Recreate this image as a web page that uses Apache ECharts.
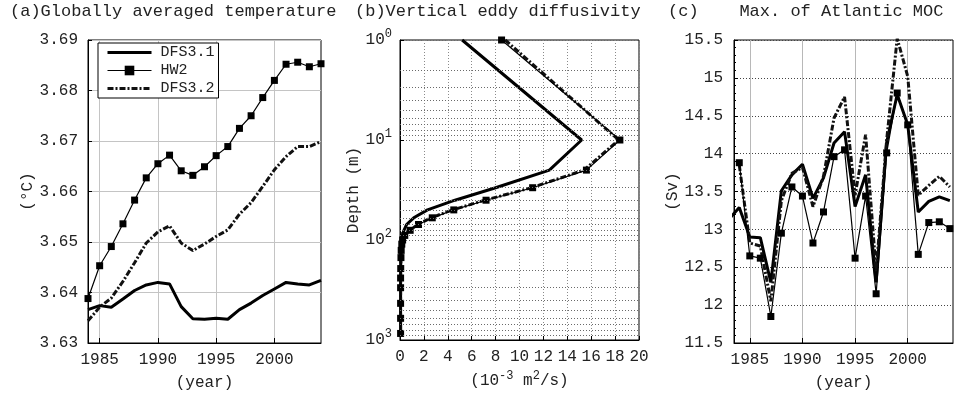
<!DOCTYPE html>
<html>
<head>
<meta charset="utf-8">
<script src="https://cdn.jsdelivr.net/npm/echarts@6/dist/echarts.min.js"></script>
<style>
  html, body { margin: 0; padding: 0; background: #fff; }
  #chart { width: 954px; height: 397px; }
</style>
</head>
<body>
<div id="chart"></div>
<script>
// (a) globally averaged temperature
var years = [1984, 1985, 1986, 1987, 1988, 1989, 1990, 1991, 1992, 1993, 1994,
             1995, 1996, 1997, 1998, 1999, 2000, 2001, 2002, 2003, 2004];
var tempDFS31 = [3.6366, 3.6374, 3.6371, 3.6387, 3.6404, 3.6415, 3.6420, 3.6417, 3.6372, 3.6348, 3.6347,
                 3.6349, 3.6347, 3.6366, 3.6379, 3.6394, 3.6407, 3.6420, 3.6417, 3.6415, 3.6424];
var tempHW2 = [3.6388, 3.6453, 3.6491, 3.6536, 3.6583, 3.6627, 3.6655, 3.6672, 3.6641, 3.6632, 3.6649,
               3.6671, 3.6689, 3.6725, 3.6750, 3.6786, 3.6820, 3.6852, 3.6856, 3.6847, 3.6853];
var tempDFS32 = [3.6344, 3.6371, 3.6389, 3.6422, 3.6459, 3.6498, 3.6520, 3.6532, 3.6498, 3.6483, 3.6496,
                 3.6511, 3.6524, 3.6555, 3.6578, 3.6610, 3.6643, 3.6669, 3.6689, 3.6689, 3.6699];

// (b) vertical eddy diffusivity profile
var kvDepths = [1, 10, 20, 30, 40, 50, 60, 70, 80, 90, 100, 110, 127, 150, 193, 240, 300, 430, 607, 860];
var kvDFS31 = [5.2, 15.2, 12.5, 8.0, 4.6, 2.3, 1.15, 0.55, 0.33, 0.2, 0.13, 0.1, 0.08, 0.07, 0.06, 0.05, 0.05, 0.05, 0.05, 0.05];
var kvHW2 = [8.5, 18.4, 15.6, 11.1, 7.2, 4.5, 2.7, 1.55, 0.85, 0.4, 0.22, 0.15, 0.1, 0.08, 0.06, 0.05, 0.05, 0.05, 0.05, 0.05];
var kvDFS32 = [8.8, 18.3, 15.4, 11.0, 7.1, 4.4, 2.6, 1.5, 0.8, 0.37, 0.2, 0.14, 0.1, 0.08, 0.06, 0.05, 0.05, 0.05, 0.05, 0.05];
var minorDepths = [2, 3, 4, 5, 6, 7, 8, 9, 20, 30, 40, 50, 60, 70, 80, 90, 200, 300, 400, 500, 600, 700, 800, 900];

// (c) max of Atlantic MOC
var mocYears = [1983, 1984, 1985, 1986, 1987, 1988, 1989, 1990, 1991, 1992, 1993, 1994,
                1995, 1996, 1997, 1998, 1999, 2000, 2001, 2002, 2003, 2004];
var mocDFS31 = [13.13, 13.29, 12.90, 12.89, 12.30, 13.51, 13.72, 13.86, 13.41, 13.68, 14.14, 14.29,
                13.30, 13.72, 12.30, 14.15, 14.78, 14.38, 13.23, 13.37, 13.43, 13.38];
var mocHW2 = [null, 13.88, 12.65, 12.62, 11.85, 12.95, 13.56, 13.44, 12.82, 13.23, 13.96, 14.05,
              12.62, 13.44, 12.15, 14.01, 14.80, 14.38, 12.67, 13.09, 13.10, 13.01];
var mocDFS32 = [null, 13.85, 12.82, 12.78, 12.05, 13.38, 13.74, 13.82, 13.30, 13.70, 14.47, 14.75,
                13.45, 14.25, 12.45, 14.18, 15.52, 15.02, 13.45, 13.58, 13.70, 13.56];

var yearTicks = [1985, 1990, 1995, 2000];

var FONT = 'Liberation Mono';
var TXT = '#222';

function pairs(xs, ys) {
  return xs.map(function (x, i) { return [x, ys[i]]; });
}
function pairsRev(vals, depths) {
  return vals.map(function (v, i) { return [v, depths[i]]; });
}

var thick = { color: '#000', width: 3 };
var thin = { color: '#000', width: 1.2 };
var dashdot = { color: '#111', width: 3, type: [6, 2, 2, 2] };

function lineSeries(name, xi, data, style, withSymbol) {
  return {
    name: name,
    type: 'line',
    xAxisIndex: xi,
    yAxisIndex: xi,
    data: data,
    lineStyle: style,
    itemStyle: { color: '#000' },
    symbol: withSymbol ? 'rect' : 'circle',
    symbolSize: 7,
    showSymbol: withSymbol,
    animation: false,
    z: withSymbol ? 3 : 2
  };
}

var labelBase = { fontFamily: FONT, fontSize: 16, color: TXT };
var yearFmt = function (v) { return String(v); };
var noMark = { color: 'rgba(0,0,0,0)', borderColor: 'rgba(0,0,0,0)', borderWidth: 0 };

var myChart = echarts.init(document.getElementById('chart'));
var option = {
  backgroundColor: '#fff',
  title: [
    { text: '(a)Globally averaged temperature', left: 10, top: 3, padding: 0,
      textStyle: { fontFamily: FONT, fontSize: 17, fontWeight: 'normal', color: TXT } },
    { text: '(b)Vertical eddy diffusivity', left: 355, top: 3, padding: 0,
      textStyle: { fontFamily: FONT, fontSize: 17, fontWeight: 'normal', color: TXT } },
    { text: '(c)    Max. of Atlantic MOC', left: 668, top: 3, padding: 0,
      textStyle: { fontFamily: FONT, fontSize: 17, fontWeight: 'normal', color: TXT } }
  ],
  legend: {
    orient: 'vertical',
    left: 98,
    top: 43,
    itemWidth: 44,
    itemHeight: 12,
    itemGap: 3,
    padding: [2, 4, 2, 8],
    backgroundColor: '#fff',
    borderColor: '#000',
    borderWidth: 1,
    borderRadius: 0,
    textStyle: { fontFamily: FONT, fontSize: 15, color: TXT, padding: [0, 0, 0, 4] },
    data: [
      { name: 'DFS3.1', itemStyle: noMark, lineStyle: { width: 3, color: '#000' } },
      { name: 'HW2', lineStyle: { width: 1.2, color: '#000' } },
      { name: 'DFS3.2', itemStyle: noMark, lineStyle: { width: 3, color: '#111', type: [6, 2, 2, 2] } }
    ]
  },
  grid: [
    { left: 88, top: 40, width: 233, height: 303, show: true, borderColor: '#000', borderWidth: 1 },
    { left: 400, top: 40, width: 239, height: 302, show: true, borderColor: '#000', borderWidth: 1 },
    { left: 734, top: 40, width: 219, height: 303, show: true, borderColor: '#000', borderWidth: 1 }
  ],
  xAxis: [
    {
      gridIndex: 0, type: 'value', min: 1984, max: 2004,
      name: '(year)', nameLocation: 'middle', nameGap: 32,
      nameTextStyle: labelBase,
      axisLine: { lineStyle: { color: '#000' } },
      axisTick: { inside: true, length: 5, customValues: yearTicks, lineStyle: { color: '#000' } },
      axisLabel: Object.assign({ margin: 9, customValues: yearTicks, formatter: yearFmt }, labelBase),
      splitLine: { show: true, lineStyle: { color: '#c4c4c4', width: 1 } }
    },
    {
      gridIndex: 1, type: 'value', min: 0, max: 20, interval: 2,
      name: '(10{s|-3} m{s|2}/s)', nameLocation: 'middle', nameGap: 30,
      nameTextStyle: Object.assign({
        rich: { s: { fontFamily: FONT, fontSize: 12, color: TXT, verticalAlign: 'top', lineHeight: 12 } }
      }, labelBase, { lineHeight: 22 }),
      axisLine: { lineStyle: { color: '#000' } },
      axisTick: { inside: true, length: 4, lineStyle: { color: '#000' } },
      axisLabel: Object.assign({ margin: 9, showMinLabel: true, showMaxLabel: true }, labelBase),
      splitLine: { show: true, lineStyle: { color: '#8a8a8a', width: 1, type: [1, 2] } }
    },
    {
      gridIndex: 2, type: 'value', min: 1983.5, max: 2004.3,
      name: '(year)', nameLocation: 'middle', nameGap: 32,
      nameTextStyle: labelBase,
      axisLine: { lineStyle: { color: '#000' } },
      axisTick: { inside: true, length: 5, customValues: yearTicks, lineStyle: { color: '#000' } },
      axisLabel: Object.assign({ margin: 9, customValues: yearTicks, formatter: yearFmt }, labelBase),
      splitLine: { show: true, lineStyle: { color: '#b8b8b8', width: 1 } }
    }
  ],
  yAxis: [
    {
      gridIndex: 0, type: 'value', min: 3.63, max: 3.69, interval: 0.01,
      name: '(°C)', nameLocation: 'middle', nameGap: 50,
      nameTextStyle: labelBase,
      axisLine: { show: true, lineStyle: { color: '#000' } },
      axisTick: { show: true, inside: true, length: 4, lineStyle: { color: '#000' } },
      axisLabel: Object.assign({ margin: 10, formatter: function (v) { return v.toFixed(2); } }, labelBase),
      splitLine: { show: true, lineStyle: { color: '#c4c4c4', width: 1 } }
    },
    {
      gridIndex: 1, type: 'log', logBase: 10, min: 1, max: 1000, inverse: true,
      name: 'Depth (m)', nameLocation: 'middle', nameGap: 34,
      nameTextStyle: labelBase,
      axisLine: { show: true, lineStyle: { color: '#000' } },
      axisTick: { show: true, inside: true, length: 4, lineStyle: { color: '#000' } },
      axisLabel: {
        margin: 8,
        formatter: function (v) {
          return '{b|10}{s|' + Math.round(Math.log10(v)) + '}';
        },
        rich: {
          b: { fontFamily: FONT, fontSize: 16, color: TXT, lineHeight: 24 },
          s: { fontFamily: FONT, fontSize: 12, color: TXT, verticalAlign: 'top', lineHeight: 12 }
        }
      },
      splitLine: { show: true, lineStyle: { color: '#6a6a6a', width: 1, type: [1, 2] } }
    },
    {
      gridIndex: 2, type: 'value', min: 11.5, max: 15.5, interval: 0.5,
      name: '(Sv)', nameLocation: 'middle', nameGap: 53,
      nameTextStyle: labelBase,
      axisLine: { show: true, lineStyle: { color: '#000' } },
      axisTick: { show: true, inside: true, length: 4, lineStyle: { color: '#000' } },
      minorTick: { show: true, splitNumber: 5, length: 2, lineStyle: { color: '#000' } },
      axisLabel: Object.assign({ margin: 11 }, labelBase),
      splitLine: { show: true, lineStyle: { color: '#444', width: 1, type: [1, 2] } }
    }
  ],
  series: [
    lineSeries('DFS3.1', 0, pairs(years, tempDFS31), thick, false),
    lineSeries('HW2', 0, pairs(years, tempHW2), thin, true),
    lineSeries('DFS3.2', 0, pairs(years, tempDFS32), dashdot, false),

    // minor log grid lines for panel (b)
    {
      type: 'line', xAxisIndex: 1, yAxisIndex: 1, data: [], silent: true, animation: false,
      markLine: {
        silent: true, symbol: 'none', animation: false,
        label: { show: false },
        lineStyle: { color: '#6a6a6a', width: 1, type: [1, 2] },
        data: minorDepths.map(function (d) { return { yAxis: d }; })
      }
    },
    lineSeries('DFS3.1', 1, pairsRev(kvDFS31, kvDepths), thick, false),
    lineSeries('HW2', 1, pairsRev(kvHW2, kvDepths), thin, true),
    lineSeries('DFS3.2', 1, pairsRev(kvDFS32, kvDepths), dashdot, false),

    lineSeries('DFS3.1', 2, pairs(mocYears, mocDFS31), thick, false),
    lineSeries('HW2', 2, pairs(mocYears, mocHW2), thin, true),
    lineSeries('DFS3.2', 2, pairs(mocYears, mocDFS32), dashdot, false)
  ]
};
myChart.setOption(option);
</script>
</body>
</html>
